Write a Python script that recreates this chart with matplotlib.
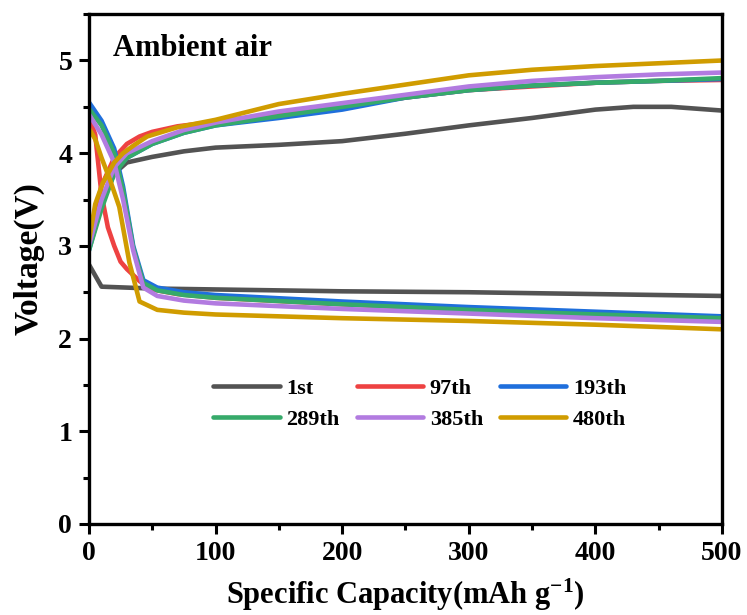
import matplotlib
matplotlib.use("Agg")
import matplotlib.pyplot as plt
from matplotlib.ticker import MultipleLocator

plt.rcParams['font.family'] = ['Liberation Serif', 'DejaVu Serif']
plt.rcParams['font.weight'] = 'bold'
plt.rcParams['mathtext.fontset'] = 'custom'
plt.rcParams['mathtext.rm'] = 'Liberation Serif:bold'
plt.rcParams['mathtext.bf'] = 'Liberation Serif:bold'
plt.rcParams['mathtext.it'] = 'Liberation Serif:bold:italic'

labels = ["1st", "97th", "193th", "289th", "385th", "480th"]
colors = ["#535353", "#EE4242", "#1F6FDC", "#36AA6A", "#B27BE0", "#D09C00"]

# charge curves (capacity, voltage)
c1_x = [0, 10, 20, 30, 50, 75, 100, 150, 200, 250, 300, 350, 400, 430, 460, 500]
c1_y = [3.0, 3.45, 3.78, 3.9, 3.96, 4.02, 4.06, 4.09, 4.13, 4.21, 4.3, 4.38, 4.47, 4.5, 4.5, 4.46]
c97_x = [0, 5, 10, 20, 30, 40, 50, 70, 100, 150, 200, 250, 300, 350, 400, 450, 500]
c97_y = [3.0, 3.35, 3.65, 3.95, 4.1, 4.18, 4.23, 4.29, 4.34, 4.42, 4.5, 4.6, 4.68, 4.72, 4.76, 4.78, 4.79]
c193_x = [0, 10, 20, 30, 50, 75, 100, 150, 200, 250, 300, 350, 400, 450, 500]
c193_y = [2.95, 3.45, 3.8, 3.95, 4.1, 4.22, 4.3, 4.38, 4.47, 4.6, 4.68, 4.73, 4.76, 4.78, 4.8]
c289_x = [0, 10, 20, 30, 50, 75, 100, 150, 200, 250, 300, 350, 400, 450, 500]
c289_y = [2.95, 3.4, 3.78, 3.95, 4.1, 4.22, 4.3, 4.4, 4.5, 4.6, 4.68, 4.73, 4.76, 4.78, 4.81]
c385_x = [0, 10, 20, 30, 50, 75, 100, 150, 200, 250, 300, 350, 400, 450, 500]
c385_y = [3.0, 3.5, 3.85, 4.0, 4.13, 4.25, 4.33, 4.45, 4.54, 4.63, 4.72, 4.78, 4.82, 4.85, 4.87]
c480_x = [0, 5, 11, 20, 27, 35, 46, 70, 100, 150, 200, 250, 300, 350, 400, 450, 500]
c480_y = [3.05, 3.45, 3.68, 3.9, 4.0, 4.08, 4.18, 4.28, 4.36, 4.53, 4.64, 4.74, 4.84, 4.9, 4.94, 4.97, 5.0]

# discharge curves (capacity, voltage)
d1_x = [0, 10, 50, 100, 200, 300, 400, 500]
d1_y = [2.8, 2.56, 2.54, 2.53, 2.51, 2.5, 2.48, 2.46]
d97_x = [0, 5, 10, 15, 20, 25, 30, 40, 50, 70, 100, 200, 300, 400, 500]
d97_y = [4.4, 4.2, 3.55, 3.2, 3.0, 2.83, 2.75, 2.62, 2.53, 2.48, 2.44, 2.37, 2.31, 2.25, 2.2]
d193_x = [0, 10, 20, 27, 35, 43, 54, 75, 100, 200, 300, 400, 500]
d193_y = [4.55, 4.35, 4.05, 3.64, 3.0, 2.63, 2.55, 2.5, 2.47, 2.4, 2.34, 2.29, 2.24]
d289_x = [0, 10, 20, 27, 35, 43, 54, 75, 100, 200, 300, 400, 500]
d289_y = [4.48, 4.3, 4.0, 3.6, 2.98, 2.6, 2.52, 2.47, 2.44, 2.37, 2.31, 2.26, 2.22]
d385_x = [0, 10, 20, 27, 35, 43, 54, 75, 100, 200, 300, 400, 500]
d385_y = [4.42, 4.2, 3.9, 3.5, 2.95, 2.55, 2.46, 2.41, 2.38, 2.32, 2.27, 2.22, 2.18]
d480_x = [0, 5, 10, 17, 24, 32, 40, 54, 75, 100, 200, 300, 400, 500]
d480_y = [4.27, 4.15, 3.95, 3.7, 3.42, 2.82, 2.4, 2.31, 2.28, 2.26, 2.22, 2.19, 2.15, 2.1]

charge = [(c1_x, c1_y), (c97_x, c97_y), (c193_x, c193_y), (c289_x, c289_y), (c385_x, c385_y), (c480_x, c480_y)]
discharge = [(d1_x, d1_y), (d97_x, d97_y), (d193_x, d193_y), (d289_x, d289_y), (d385_x, d385_y), (d480_x, d480_y)]

fig = plt.figure(figsize=(7.47, 6.15), dpi=100)
ax = fig.add_axes([0.119, 0.148, 0.8475, 0.829])

handles = []
for (cx, cy), (dx, dy), lab, col in zip(charge, discharge, labels, colors):
    h, = ax.plot(cx, cy, color=col, lw=3.3, label=lab, solid_capstyle='round', solid_joinstyle='round')
    ax.plot(dx, dy, color=col, lw=3.3, solid_capstyle='round', solid_joinstyle='round')
    handles.append(h)

ax.set_xlim(0, 500)
ax.set_ylim(0, 5.5)
ax.xaxis.set_major_locator(MultipleLocator(100))
ax.xaxis.set_minor_locator(MultipleLocator(50))
ax.yaxis.set_major_locator(MultipleLocator(1))
ax.yaxis.set_minor_locator(MultipleLocator(0.5))
ax.tick_params(which='major', direction='out', length=7, width=2.2, labelsize=20, pad=5)
ax.tick_params(which='minor', direction='out', length=4, width=2.2)
ax.tick_params(top=False, right=False, which='both')
for sp in ax.spines.values():
    sp.set_linewidth(2.4)
for lab in ax.get_xticklabels() + ax.get_yticklabels():
    lab.set_fontweight('bold')

ax.set_xlabel(r"Specific Capacity(mAh g$^{\mathbf{-1}}$)", fontsize=22, fontweight='bold', labelpad=8)
ax.set_ylabel("Voltage(V)", fontsize=24, fontweight='bold')
ax.yaxis.set_label_coords(-0.07, 0.52)
ax.text(0.038, 0.933, "Ambient air", transform=ax.transAxes, fontsize=22, fontweight='bold',
        va='center', ha='left')

# row-major legend order for 2 rows x 3 columns
order = [0, 3, 1, 4, 2, 5]
leg = ax.legend(handles=[handles[i] for i in order], ncol=3, loc='center',
                bbox_to_anchor=(0.562, 0.343), bbox_transform=fig.transFigure,
                frameon=False, handlelength=3.0, handletextpad=0.3, columnspacing=0.75,
                labelspacing=0.45, borderpad=0, prop={'weight': 'bold', 'size': 16})

fig.savefig("out.png", dpi=100)
